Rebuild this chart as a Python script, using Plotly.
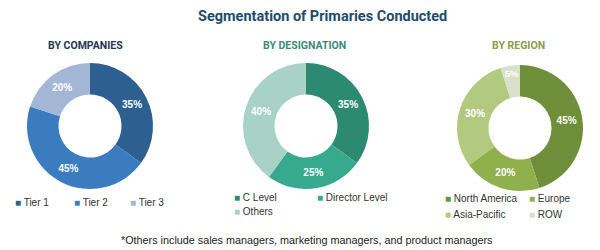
import plotly.graph_objects as go

# ---- data ----
title_text = "Segmentation of Primaries Conducted"
footnote_text = "*Others include sales managers, marketing managers, and product managers"

companies_title = "BY COMPANIES"
companies_labels = ["Tier 1", "Tier 2", "Tier 3"]
companies_values = [35, 45, 20]

designation_title = "BY DESIGNATION"
designation_labels = ["C Level", "Director Level", "Others"]
designation_values = [35, 25, 40]

region_title = "BY REGION"
region_labels = ["North America", "Europe", "Asia-Pacific", "ROW"]
region_values = [45, 20, 30, 5]

# ---- styles ----
W, H = 600, 250
companies_colors = ["#2d5f90", "#3b7cbf", "#a3b6d6"]
designation_colors = ["#2c8a73", "#37aa8d", "#a7d2c5"]
region_colors = ["#6e8e39", "#8fb04d", "#b2ca80", "#d8e0c9"]

HEAD = "Roboto, Liberation Sans, sans-serif"
SANS = "Liberation Sans, Arial, sans-serif"


def px_x(x):
    return x / W


def px_y(y):
    return 1 - y / H


def domain(cx, cy, r):
    return dict(x=[px_x(cx - r), px_x(cx + r)], y=[px_y(cy + r), px_y(cy - r)])


panels = [
    dict(title=companies_title, labels=companies_labels, values=companies_values,
         colors=companies_colors, title_color="#1f3652", title_x=85,
         center=(90, 126), legend_pos=[(13, 202), (72, 202), (128, 202)]),
    dict(title=designation_title, labels=designation_labels, values=designation_values,
         colors=designation_colors, title_color="#3a8a78", title_x=304,
         center=(306, 126), legend_pos=[(232, 197), (315, 197), (232, 211)]),
    dict(title=region_title, labels=region_labels, values=region_values,
         colors=region_colors, title_color="#8a9b4c", title_x=518,
         center=(520, 128), legend_pos=[(443, 198), (527, 198), (443, 214), (527, 214)]),
]

fig = go.Figure()
annotations = []
R = 63
for p in panels:
    fig.add_trace(go.Pie(
        labels=p["labels"], values=p["values"],
        marker=dict(colors=p["colors"], line=dict(width=0)),
        hole=0.5, sort=False, direction="clockwise", rotation=0,
        textinfo="percent", textposition="inside",
        insidetextorientation="horizontal",
        textfont=dict(family=SANS, size=10, color="white", weight="bold"),
        domain=domain(p["center"][0], p["center"][1], R),
        showlegend=False,
    ))
    annotations.append(dict(
        text=p["title"], x=px_x(p["title_x"]), y=px_y(46), xref="paper", yref="paper",
        xanchor="center", yanchor="middle", showarrow=False,
        font=dict(family=HEAD, size=10.5, color=p["title_color"], weight="bold"),
    ))
    for lab, col, (lx, ly) in zip(p["labels"], p["colors"], p["legend_pos"]):
        annotations.append(dict(
            text=f"<span style='color:{col}'>■</span> {lab}",
            x=px_x(lx), y=px_y(ly), xref="paper", yref="paper",
            xanchor="left", yanchor="middle", showarrow=False,
            font=dict(family=SANS, size=10, color="#333333"),
        ))

annotations.append(dict(
    text=title_text, x=px_x(322), y=px_y(16), xref="paper", yref="paper",
    xanchor="center", yanchor="middle", showarrow=False,
    font=dict(family=HEAD, size=14.5, color="#1e4d6b", weight="bold"),
))
annotations.append(dict(
    text=footnote_text, x=px_x(307), y=px_y(240), xref="paper", yref="paper",
    xanchor="center", yanchor="middle", showarrow=False,
    font=dict(family=SANS, size=10.8, color="#222222"),
))

fig.update_layout(
    width=W, height=H, margin=dict(l=0, r=0, t=0, b=0),
    paper_bgcolor="white", plot_bgcolor="white",
    annotations=annotations,
)

fig.write_html("out.html")
